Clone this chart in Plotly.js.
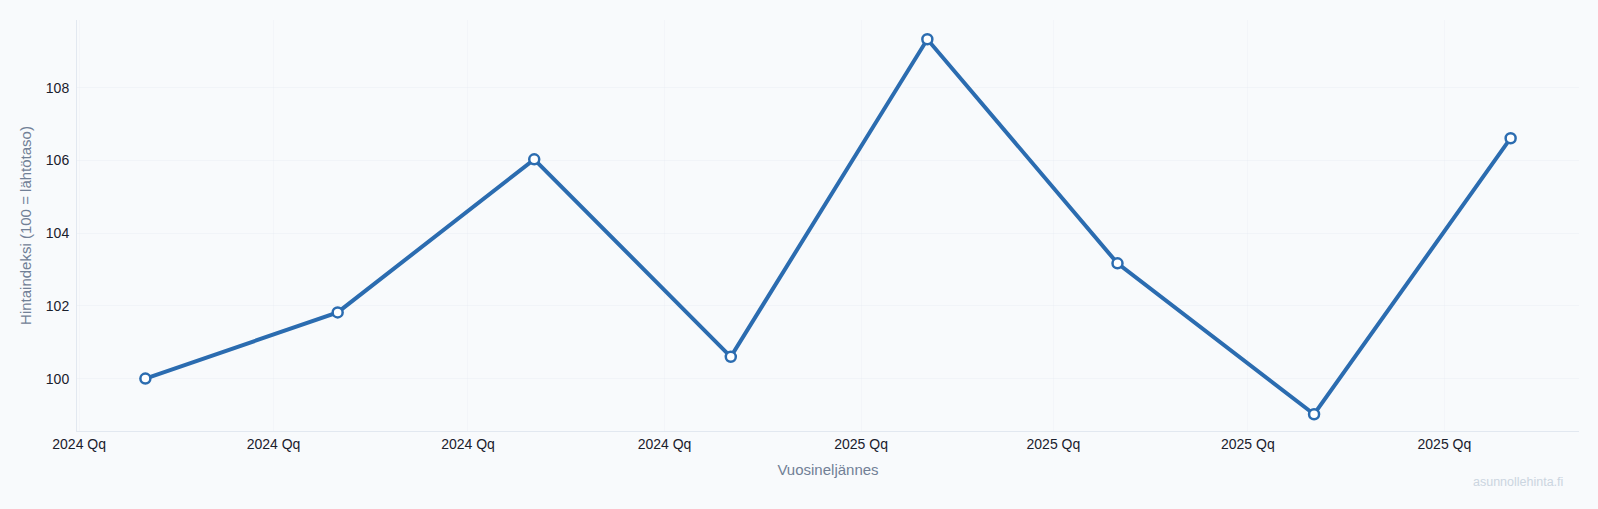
<!DOCTYPE html>
<html>
<head>
<meta charset="utf-8">
<script src="https://cdn.plot.ly/plotly-3.0.1.min.js"></script>
<style>
  html, body { margin: 0; padding: 0; background: #f8fafc; }
  #chart { width: 1598px; height: 509px; }
</style>
</head>
<body>
<div id="chart"></div>
<script>
// Quarterly price index (100 = base level)
var quarterDates = ['2024-02-01', '2024-05-01', '2024-08-01', '2024-11-01',
                    '2025-02-01', '2025-05-01', '2025-08-01', '2025-11-01'];
var indexValues = [100.0, 101.82, 106.03, 100.6, 109.33, 103.17, 99.02, 106.61];

var lineColor = '#2b6cb0';

var traces = [{
  type: 'scatter',
  mode: 'lines+markers',
  name: 'Hintaindeksi',
  x: quarterDates,
  y: indexValues,
  line: { color: lineColor, width: 4 },
  marker: { size: 10, color: '#ffffff', line: { color: lineColor, width: 2.5 } }
}];

Plotly.newPlot('chart', traces, {
  width: 1598,
  height: 509,
  margin: { l: 77, r: 19, t: 20, b: 78 },
  paper_bgcolor: '#f8fafc',
  plot_bgcolor: '#f8fafc',
  showlegend: false,
  font: { family: 'Liberation Sans, Arial, sans-serif', size: 14, color: '#1a202c' },
  xaxis: {
    type: 'date',
    range: ['2023-12-31', '2025-12-03'],
    tickformat: '%Y Qq',
    dtick: 'M3',
    tick0: '2024-01-01',
    showline: true,
    linecolor: '#e2e8f0',
    gridcolor: 'rgba(226,232,240,0.25)',
    zeroline: false,
    ticks: '',
    title: { text: 'Vuosineljännes', font: { size: 15, color: '#718096' }, standoff: 13 }
  },
  yaxis: {
    range: [98.56, 109.86],
    dtick: 2,
    showline: true,
    linecolor: '#e2e8f0',
    gridcolor: 'rgba(226,232,240,0.3)',
    zeroline: false,
    ticks: '',
    ticklabelstandoff: 4,
    title: { text: 'Hintaindeksi (100 = lähtötaso)', font: { size: 15, color: '#718096' }, standoff: 10 }
  },
  annotations: [{
    text: 'asunnollehinta.fi',
    xref: 'paper', yref: 'paper',
    x: 0.991, y: -0.125,
    xanchor: 'right', yanchor: 'middle',
    showarrow: false,
    font: { size: 12.5, color: '#cbd5e0' }
  }]
}, { displayModeBar: false });
</script>
</body>
</html>
